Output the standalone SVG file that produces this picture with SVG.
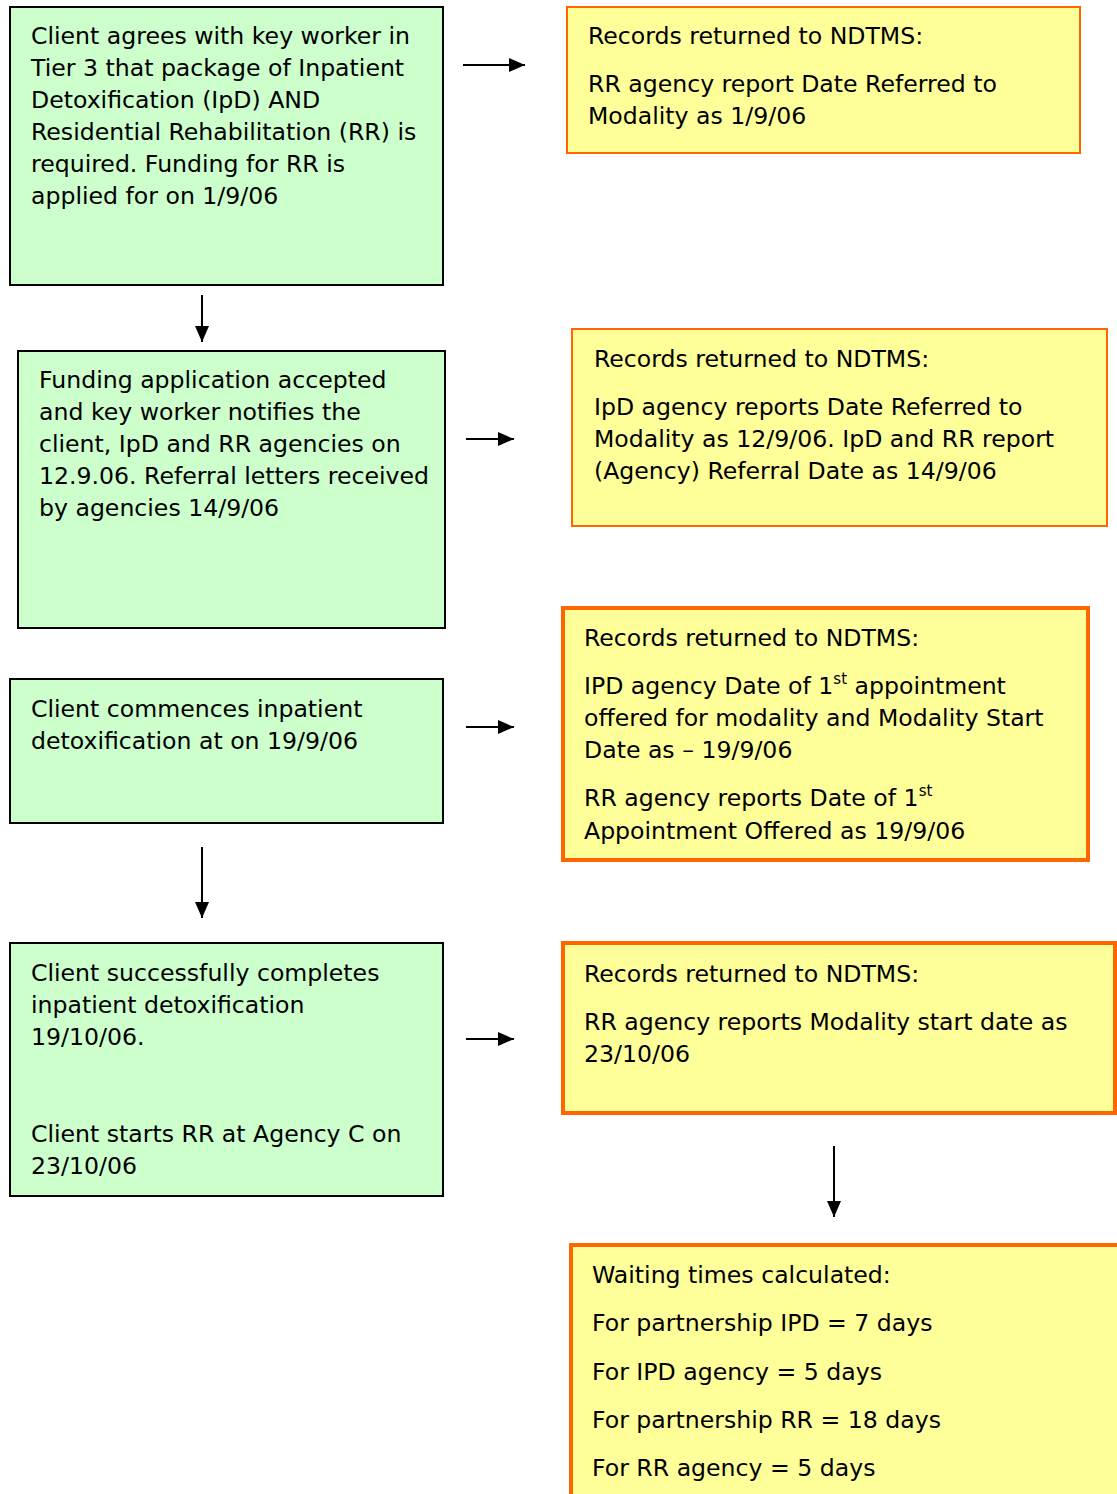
<svg xmlns="http://www.w3.org/2000/svg" width="1117" height="1494" viewBox="0 0 1117 1494">
<defs>
<style>
.g{fill:#CCFFCC;stroke:#000;stroke-width:2}
.y{fill:#FFFF99;stroke:#FF6600;stroke-width:2}
.yt{fill:#FFFF99;stroke:#FF6600;stroke-width:4}
text{font-family:"DejaVu Sans","Liberation Sans",sans-serif;font-size:23.6px;fill:#000}
.c{stroke:#000;stroke-width:2;fill:none}
.sup{font-size:15px}
</style>
<marker id="ah2" markerWidth="16" markerHeight="14" refX="16" refY="7" orient="auto" markerUnits="userSpaceOnUse" viewBox="0 0 16 14">
<path d="M0,0 L16,7 L0,14 Z" fill="#000"/>
</marker>
</defs>
<rect width="1117" height="1494" fill="#fff"/>
<g id="connectors">
<line class="c" x1="463" y1="65" x2="525" y2="65" marker-end="url(#ah2)"/>
<line class="c" x1="202" y1="295" x2="202" y2="342" marker-end="url(#ah2)"/>
<line class="c" x1="466" y1="439" x2="514" y2="439" marker-end="url(#ah2)"/>
<line class="c" x1="466" y1="727" x2="514" y2="727" marker-end="url(#ah2)"/>
<line class="c" x1="202" y1="847" x2="202" y2="918" marker-end="url(#ah2)"/>
<line class="c" x1="466" y1="1039" x2="514" y2="1039" marker-end="url(#ah2)"/>
<line class="c" x1="834" y1="1146" x2="834" y2="1217" marker-end="url(#ah2)"/>
</g>
<g id="n1">
<rect class="g" x="10" y="7" width="433" height="278"/>
<text x="31" y="44">Client agrees with key worker in</text>
<text x="31" y="76">Tier 3 that package of Inpatient</text>
<text x="31" y="108">Detoxification (IpD) AND</text>
<text x="31" y="140">Residential Rehabilitation (RR) is</text>
<text x="31" y="172">required. Funding for RR is</text>
<text x="31" y="204">applied for on 1/9/06</text>
</g>
<g id="r1">
<rect class="y" x="567" y="7" width="513" height="146"/>
<text x="588" y="44">Records returned to NDTMS:</text>
<text x="588" y="92">RR agency report Date Referred to</text>
<text x="588" y="124">Modality as 1/9/06</text>
</g>
<g id="n2">
<rect class="g" x="18" y="351" width="427" height="277"/>
<text x="39" y="388">Funding application accepted</text>
<text x="39" y="420">and key worker notifies the</text>
<text x="39" y="452">client, IpD and RR agencies on</text>
<text x="39" y="484">12.9.06. Referral letters received</text>
<text x="39" y="516">by agencies 14/9/06</text>
</g>
<g id="r2">
<rect class="y" x="572" y="329" width="535" height="197"/>
<text x="594" y="367">Records returned to NDTMS:</text>
<text x="594" y="415">IpD agency reports Date Referred to</text>
<text x="594" y="447">Modality as 12/9/06. IpD and RR report</text>
<text x="594" y="479">(Agency) Referral Date as 14/9/06</text>
</g>
<g id="n3">
<rect class="g" x="10" y="679" width="433" height="144"/>
<text x="31" y="717">Client commences inpatient</text>
<text x="31" y="749">detoxification at on 19/9/06</text>
</g>
<g id="r3">
<rect class="yt" x="563" y="608" width="525" height="252"/>
<text x="584" y="646">Records returned to NDTMS:</text>
<text x="584" y="694">IPD agency Date of 1<tspan class="sup" dy="-10">st</tspan><tspan dy="10"> appointment</tspan></text>
<text x="584" y="726">offered for modality and Modality Start</text>
<text x="584" y="758">Date as – 19/9/06</text>
<text x="584" y="806">RR agency reports Date of 1<tspan class="sup" dy="-10">st</tspan></text>
<text x="584" y="839">Appointment Offered as 19/9/06</text>
</g>
<g id="n4">
<rect class="g" x="10" y="943" width="433" height="253"/>
<text x="31" y="981">Client successfully completes</text>
<text x="31" y="1013">inpatient detoxification</text>
<text x="31" y="1045">19/10/06.</text>
<text x="31" y="1142">Client starts RR at Agency C on</text>
<text x="31" y="1174">23/10/06</text>
</g>
<g id="r4">
<rect class="yt" x="563" y="943" width="552" height="170"/>
<text x="584" y="982">Records returned to NDTMS:</text>
<text x="584" y="1030">RR agency reports Modality start date as</text>
<text x="584" y="1062">23/10/06</text>
</g>
<g id="r5">
<rect class="yt" x="571" y="1245" width="560" height="260"/>
<text x="592" y="1283">Waiting times calculated:</text>
<text x="592" y="1331">For partnership IPD = 7 days</text>
<text x="592" y="1380">For IPD agency = 5 days</text>
<text x="592" y="1428">For partnership RR = 18 days</text>
<text x="592" y="1476">For RR agency = 5 days</text>
</g>
</svg>
